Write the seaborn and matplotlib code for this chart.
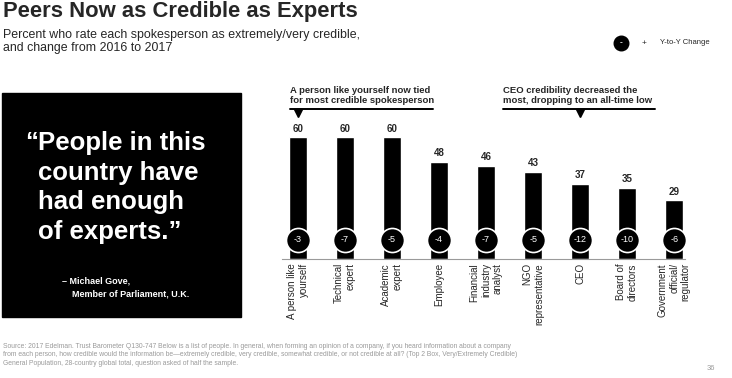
import seaborn as sns
import matplotlib.pyplot as plt
import matplotlib.transforms as mtransforms
import pandas as pd
from matplotlib.lines import Line2D
from matplotlib.patches import Rectangle

sns.set_style('white')
plt.rcParams['font.family'] = ['Liberation Sans', 'DejaVu Sans']

# --- data ---
spokespeople = ['A person like\nyourself', 'Technical\nexpert', 'Academic\nexpert', 'Employee',
                'Financial\nindustry\nanalyst', 'NGO\nrepresentative', 'CEO',
                'Board of\ndirectors', 'Government\nofficial/\nregulator']
credible_2017 = [60, 60, 60, 48, 46, 43, 37, 35, 29]
change = [-3, -7, -5, -4, -7, -5, -12, -10, -6]

df = pd.DataFrame({'who': spokespeople, 'pct': credible_2017, 'chg': change})

W, H = 732, 378
fig = plt.figure(figsize=(W / 100, H / 100), dpi=100)


def fx(px):
    return px / W


def fy(py):
    return 1 - py / H


# bars
ax = fig.add_axes([fx(282), fy(259), (685 - 282) / W, (259 - 117) / H])
sns.barplot(data=df, x='who', y='pct', color='black', width=0.38, saturation=1, ax=ax)
ax.set_xlim(-0.34, 8.23)
ax.set_ylim(0, 70)
ax.set_xlabel('')
ax.set_ylabel('')
ax.set_yticks([])
sns.despine(ax=ax, left=True)
ax.spines['bottom'].set_color('#9a9a9a')
ax.spines['bottom'].set_linewidth(0.8)
ax.tick_params(axis='x', which='major', length=0, pad=3)
ax.set_xticks([i + 0.5 for i in range(8)], minor=True)
ax.tick_params(axis='x', which='minor', length=4, color='#9a9a9a', width=0.8, direction='out')
for lbl in ax.get_xticklabels():
    lbl.set_rotation(90)
    lbl.set_fontsize(7)
    lbl.set_ha('center')
    lbl.set_va('top')
    lbl.set_multialignment('right')

for i, v in enumerate(df['pct']):
    ax.text(i, v + 1.8, str(v), ha='center', va='bottom', fontsize=7, fontweight='bold')

# change circles
ax.scatter(range(len(df)), [9.4] * len(df), s=300, c='black', edgecolors='white',
           linewidths=1.2, zorder=3, clip_on=False)
for i, c in enumerate(df['chg']):
    ax.text(i, 9.4, str(c), ha='center', va='center', color='white', fontsize=6.5, zorder=4)

# overlay axes in pixel units for the page furniture
pg = fig.add_axes([0, 0, 1, 1], facecolor='none')
pg.set_xlim(0, W)
pg.set_ylim(H, 0)
pg.axis('off')

# title & subtitle
pg.text(3, 1, 'Peers Now as Credible as Experts', fontsize=15.8, fontweight='bold',
        ha='left', va='top')
pg.text(3, 29, 'Percent who rate each spokesperson as extremely/very credible,\n'
        'and change from 2016 to 2017', fontsize=8.9, ha='left', va='top', linespacing=1.1)

# legend
pg.scatter([621], [43], s=110, c='black', zorder=3)
pg.text(621, 43, '-', color='white', ha='center', va='center', fontsize=6, fontweight='bold', zorder=4)
pg.text(644, 43, '+', ha='center', va='center', fontsize=6)
pg.text(660, 43, 'Y-to-Y Change', ha='left', va='center', fontsize=5.5)

# quote box
pg.add_patch(Rectangle((2, 93), 239, 224, color='black', zorder=1))
pg.text(38, 131, '\u201c', color='white', fontsize=18.5, fontweight='bold', ha='right', va='top', zorder=2)
pg.text(38, 131, 'People in this\ncountry have\nhad enough\nof experts.\u201d', color='white',
        fontsize=18.5, fontweight='bold', ha='left', va='top', linespacing=1.3, zorder=2)
pg.text(62, 281, '\u2013 Michael Gove,', color='white', fontsize=6.5, fontweight='bold',
        ha='left', va='center', zorder=2)
pg.text(72, 294, 'Member of Parliament, U.K.', color='white', fontsize=6.5, fontweight='bold',
        ha='left', va='center', zorder=2)

# callouts
pg.text(290, 105, 'A person like yourself now tied\nfor most credible spokesperson',
        fontsize=6.8, fontweight='bold', ha='left', va='bottom', linespacing=1.15)
pg.add_line(Line2D([290, 433], [109, 109], color='black', lw=1.4))
pg.text(503, 105, 'CEO credibility decreased the\nmost, dropping to an all-time low',
        fontsize=6.8, fontweight='bold', ha='left', va='bottom', linespacing=1.15)
pg.add_line(Line2D([503, 655], [109, 109], color='black', lw=1.4))
tri = mtransforms.blended_transform_factory(ax.transData, pg.transData)
pg.plot([0, 6], [113, 113], 'v', color='black', markersize=6, transform=tri)

# source
pg.text(3, 343, 'Source: 2017 Edelman. Trust Barometer Q130-747 Below is a list of people. In general, '
        'when forming an opinion of a company, if you heard information about a company\n'
        'from each person, how credible would the information be\u2014extremely credible, very credible, '
        'somewhat credible, or not credible at all? (Top 2 Box, Very/Extremely Credible)\n'
        'General Population, 28-country global total, question asked of half the sample.',
        fontsize=4.85, color='#9a9a9a', ha='left', va='top', linespacing=1.3)
pg.text(711, 369, '36', fontsize=5.5, color='#9a9a9a', ha='center', va='center')

fig.savefig('out.png', dpi=100)
